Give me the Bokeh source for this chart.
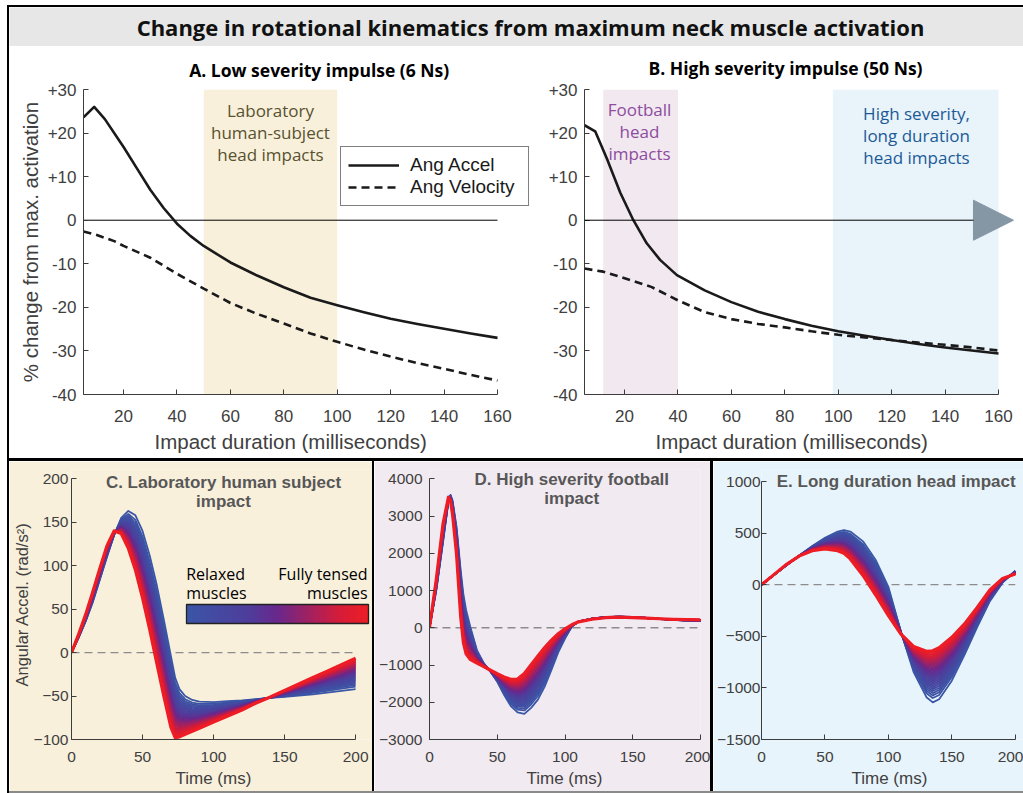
import numpy as np
from bokeh.plotting import figure
from bokeh.models import (Label, Arrow, NormalHead, Legend, LegendItem, ColorBar, Title,
                          LinearColorMapper, FixedTicker, Spacer, Range1d, BoxAnnotation,
                          ColumnDataSource)
from bokeh.layouts import row, column
from bokeh.embed import file_html
from bokeh.resources import INLINE

# ---------------- data ----------------
title_text = "Change in rotational kinematics from maximum neck muscle activation"
title_a = "A.  Low severity impulse (6 Ns)"
title_b = "B. High severity impulse (50 Ns)"

# Panel A: low severity impulse (6 Ns) - % change from max activation vs impact duration (ms)
a_accel_x = [5, 9, 13, 20, 25, 30, 35, 40, 45, 50, 60, 70, 80, 90, 100, 110, 120, 130, 140, 150, 160]
a_accel_y = [23.6, 26.0, 23.2, 16.8, 11.9, 7.0, 2.8, -0.8, -3.6, -5.9, -9.7, -12.7, -15.4, -17.8,
             -19.5, -21.1, -22.6, -23.8, -24.9, -26.0, -27.0]
a_vel_x = [5, 10, 16.5, 20, 30, 40, 50, 60, 70, 80, 90, 100, 110, 120, 130, 140, 150, 160]
a_vel_y = [-2.6, -3.4, -4.8, -5.9, -8.6, -12.3, -15.7, -19.0, -21.5, -23.7, -26.0, -27.9, -29.7,
           -31.3, -32.8, -34.1, -35.5, -36.8]

# Panel B: high severity impulse (50 Ns)
b_accel_x = [5, 9, 13.4, 18.4, 23.3, 28.3, 33.3, 39.6, 50, 60, 70, 80, 90, 100, 110, 120, 130, 140, 150, 160]
b_accel_y = [21.8, 20.4, 14.1, 6.3, 0.0, -5.3, -9.1, -12.6, -16.1, -18.8, -21.0, -22.7, -24.2,
             -25.5, -26.5, -27.5, -28.4, -29.2, -29.9, -30.6]
b_vel_x = [5, 12, 18.4, 30, 40, 50, 60, 70, 80, 90, 100, 110, 120, 130, 140, 150, 160]
b_vel_y = [-11.1, -11.8, -13.0, -15.3, -18.4, -21.1, -22.7, -23.8, -24.6, -25.5, -26.3, -26.9,
           -27.5, -28.1, -28.6, -29.2, -29.9]

dur_limits = [5, 160]
pct_limits = [-40, 30]
a_ticks_y = [-40, -30, -20, -10, 0, 10, 20, 30]
a_tick_labels_y = ["-40", "-30", "-20", "-10", "0", "+10", "+20", "+30"]
a_ticks_x = [20, 40, 60, 80, 100, 120, 140, 160]
zero_x = [5, 160]
zero_y = [0, 0]

# shaded duration ranges (ms)
lab_region = [50, 100]
football_region = [12, 40]
long_region = [98, 160]

# Panel C: laboratory human subject impact (rad/s^2)
c_time = [0, 5, 10, 15, 20, 25, 30, 35, 40, 45, 50, 55, 60, 65, 70, 73, 76, 80, 85, 90, 100,
          110, 120, 130, 140, 150, 160, 170, 180, 190, 200]
c_relaxed = [0, 17, 36, 58, 84, 110, 135, 155, 163, 158, 140, 112, 78, 38, -4, -29, -42, -50,
             -54.5, -56.5, -57, -56, -55, -53.5, -52, -51, -49.5, -48, -46, -44, -42]
c_tensed = [0, 21, 44, 70, 97, 123, 140, 137, 120, 95, 63, 27, -12, -50, -86, -98, -97, -94,
            -90.5, -87, -80, -73, -66, -58, -51, -43.5, -36, -28.5, -21.5, -14, -6.5]

# Panel D: high severity football impact
d_time = [0, 5, 10, 14, 15.5, 17, 20, 23, 25, 27, 30, 35, 40, 45, 50, 55, 60, 65, 70, 75, 80,
          85, 90, 95, 100, 105, 110, 120, 130, 140, 150, 160, 170, 180, 190, 200]
d_relaxed = [0, 1000, 2300, 3400, 3570, 3420, 2700, 1550, 900, 480, 40, -600, -950, -1180,
             -1450, -1800, -2100, -2270, -2310, -2150, -1930, -1580, -1130, -660, -290, 30, 170,
             250, 290, 300, 290, 265, 235, 210, 190, 180]
d_tensed = [0, 1300, 2800, 3510, 3400, 3050, 1950, 300, -400, -700, -850, -950, -1040, -1140,
            -1235, -1320, -1385, -1375, -1230, -990, -760, -530, -330, -160, -30, 80, 160, 230,
            270, 285, 275, 258, 242, 228, 220, 215]

# Panel E: long duration head impact
e_time = [0, 10, 20, 30, 40, 50, 60, 65, 70, 80, 90, 100, 110, 120, 130, 135, 140, 150, 160,
          170, 180, 190, 200]
e_relaxed = [0, 95, 190, 285, 375, 455, 515, 530, 515, 420, 240, -20, -460, -850, -1090, -1140,
             -1110, -930, -680, -410, -160, 20, 136]
e_tensed = [0, 100, 200, 280, 330, 346, 330, 305, 250, 90, -100, -300, -480, -600, -646, -640,
            -610, -510, -380, -220, -50, 60, 103]

time_limits = [0, 200]
time_ticks = [0, 50, 100, 150, 200]
c_ticks = [-100, -50, 0, 50, 100, 150, 200]
d_ticks = [-3000, -2000, -1000, 0, 1000, 2000, 3000, 4000]
e_ticks = [-1500, -1000, -500, 0, 500, 1000]

n_curves = 36  # muscle activation levels from relaxed to fully tensed

# ---------------- styles ----------------
AX = "#3c3c3c"
TXT = "#404040"
SANS = "Liberation Sans"
OPEN = "Open Sans"
BG_C = "#f9f0dc"
BG_D = "#f2eaf1"
BG_E = "#e8f4fb"
anch_t = [0.0, 0.35, 0.5, 0.7, 0.85, 1.0]
anch_c = [(58, 86, 166), (80, 60, 155), (105, 40, 140), (170, 32, 90), (215, 28, 55), (238, 29, 37)]


def colour_at(t):
    r = np.interp(t, anch_t, [c[0] for c in anch_c])
    g = np.interp(t, anch_t, [c[1] for c in anch_c])
    b = np.interp(t, anch_t, [c[2] for c in anch_c])
    return "#%02x%02x%02x" % (int(round(r)), int(round(g)), int(round(b)))


palette = [colour_at(i / 255) for i in range(256)]


def style_axes(p, tick_px, label_px, tick_standoff, ylabel_standoff):
    for ax in (p.xaxis[0], p.yaxis[0]):
        ax.axis_line_color = AX
        ax.axis_line_width = 1
        ax.major_tick_line_color = AX
        ax.major_tick_in = 5
        ax.major_tick_out = 0
        ax.minor_tick_line_color = None
        ax.major_label_text_font = SANS
        ax.major_label_text_font_size = tick_px
        ax.major_label_text_color = TXT
        ax.axis_label_text_font = SANS
        ax.axis_label_text_font_size = label_px
        ax.axis_label_text_font_style = "normal"
        ax.axis_label_text_color = TXT
        ax.major_label_standoff = tick_standoff
    p.yaxis[0].minor_tick_out = 0
    p.yaxis[0].minor_tick_in = 0
    p.yaxis[0].axis_label_standoff = ylabel_standoff
    p.xgrid.visible = False
    p.ygrid.visible = False
    p.outline_line_color = None


def xlabel(p, text, size, offset, standoff):
    p.add_layout(Title(text=text, align="left", offset=offset, standoff=standoff,
                       text_font=SANS, text_font_size=size, text_font_style="normal",
                       text_color=TXT), "below")


def text_strip(width, height, bg):
    s = figure(width=width, height=height, x_range=Range1d(0, width), y_range=Range1d(0, height),
               toolbar_location=None, output_backend="svg", x_axis_location=None,
               y_axis_location=None, min_border=0, background_fill_color=bg, border_fill_color=bg)
    s.grid.visible = False
    s.outline_line_color = None
    return s


# ---------------- title band ----------------
pT = text_strip(1014, 39, "#e6e7e6")
pT.add_layout(Label(x=521, y=19.5, text=title_text, text_align="center", text_baseline="middle",
                    text_font=OPEN, text_font_style="bold", text_font_size="22px", text_color="#111111"))

# ---------------- panel titles strip (A, B) ----------------
pS = text_strip(1014, 36, "white")
pS.add_layout(Label(x=312, y=12.5, text=title_a, text_align="center", text_baseline="middle",
                    text_font=OPEN, text_font_style="bold", text_font_size="17.5px", text_color="black"))
pS.add_layout(Label(x=776, y=15, text=title_b, text_align="center", text_baseline="middle",
                    text_font=OPEN, text_font_style="bold", text_font_size="17.5px", text_color="black"))

# ---------------- panel A ----------------
pA = figure(width=526, height=376, x_range=Range1d(5, 174.23), y_range=Range1d(*pct_limits),
            toolbar_location=None, output_backend="svg", min_border_left=74, min_border_right=0,
            min_border_top=7, min_border_bottom=64, background_fill_color="white")
pA.add_layout(BoxAnnotation(left=lab_region[0], right=lab_region[1], bottom=pct_limits[0],
                            top=pct_limits[1], fill_color="#f9f0dc", fill_alpha=1, line_color=None,
                            level="underlay"))
pA.line(zero_x, zero_y, line_color="black", line_width=1)
rA1 = pA.line(a_accel_x, a_accel_y, line_color="#1a1a1a", line_width=2.6, line_join="round")
rA2 = pA.line(a_vel_x, a_vel_y, line_color="#1a1a1a", line_width=2.6, line_dash="8 5")
style_axes(pA, "17px", "20.5px", 7, 3)
pA.xaxis[0].ticker = FixedTicker(ticks=a_ticks_x)
pA.yaxis[0].ticker = FixedTicker(ticks=a_ticks_y)
pA.yaxis[0].major_label_overrides = dict(zip(a_ticks_y, a_tick_labels_y))
pA.xaxis[0].bounds = tuple(dur_limits)
pA.yaxis[0].axis_label = "% change from max. activation"
pA.xaxis[0].major_label_standoff = 15
xlabel(pA, "Impact duration (milliseconds)", "20.5px", 71, 7)
pA.add_layout(Label(x=75, y=20.1, text="Laboratory\nhuman-subject\nhead impacts", text_align="center",
                    text_baseline="middle", text_font=OPEN, text_font_size="17px",
                    text_color="#57522f", text_line_height=0.97))
leg = Legend(items=[LegendItem(label="Ang Accel", renderers=[rA1]),
                    LegendItem(label="Ang Velocity", renderers=[rA2])],
             location=(257, 188))
leg.border_line_color = "black"
leg.border_line_width = 1.3
leg.background_fill_color = "white"
leg.background_fill_alpha = 1
leg.label_text_font = SANS
leg.label_text_font_size = "19px"
leg.label_text_color = "#1a1a1a"
leg.glyph_width = 51
leg.glyph_height = 20
leg.label_height = 20
leg.label_width = 111
leg.label_standoff = 11
leg.padding = 7
leg.spacing = 0
leg.margin = 0
pA.add_layout(leg)

# ---------------- panel B ----------------
pB = figure(width=488, height=376, x_range=Range1d(5, 169.36), y_range=Range1d(*pct_limits),
            toolbar_location=None, output_backend="svg", min_border_left=49, min_border_right=0,
            min_border_top=7, min_border_bottom=64, background_fill_color="white")
pB.add_layout(BoxAnnotation(left=football_region[0], right=football_region[1], bottom=pct_limits[0],
                            top=pct_limits[1], fill_color="#f1e8f0", fill_alpha=1, line_color=None,
                            level="underlay"))
pB.add_layout(BoxAnnotation(left=long_region[0], right=long_region[1], bottom=pct_limits[0],
                            top=pct_limits[1], fill_color="#e8f3fa", fill_alpha=1, line_color=None,
                            level="underlay"))
pB.line(b_accel_x, b_accel_y, line_color="#1a1a1a", line_width=2.6, line_join="round")
pB.line(b_vel_x, b_vel_y, line_color="#1a1a1a", line_width=2.6, line_dash="8 5")
pB.add_layout(Arrow(end=NormalHead(size=40, fill_color="#8596a5", line_color="#8596a5"),
                    x_start=5, y_start=0, x_end=165.6, y_end=0, line_color="black", line_width=1))
style_axes(pB, "17px", "20.5px", 7, 3)
pB.xaxis[0].ticker = FixedTicker(ticks=a_ticks_x)
pB.yaxis[0].ticker = FixedTicker(ticks=a_ticks_y)
pB.yaxis[0].major_label_overrides = dict(zip(a_ticks_y, a_tick_labels_y))
pB.xaxis[0].bounds = tuple(dur_limits)
pB.xaxis[0].major_label_standoff = 15
xlabel(pB, "Impact duration (milliseconds)", "20.5px", 71, 7)
pB.add_layout(Label(x=25.6, y=20.4, text="Football\nhead\nimpacts", text_align="center",
                    text_baseline="middle", text_font=OPEN, text_font_size="17px",
                    text_color="#8e4c9e", text_line_height=0.97))
pB.add_layout(Label(x=129.3, y=19.4, text="High severity,\nlong duration\nhead impacts",
                    text_align="center", text_baseline="middle", text_font=OPEN,
                    text_font_size="17px", text_color="#1b5a97", text_line_height=0.97))


# ---------------- bottom panels ----------------
def bottom_fig(width, xr, yr, yticks, ybounds, bg, left, right, top, tick_standoff):
    p = figure(width=width, height=330, x_range=Range1d(*xr), y_range=Range1d(*yr),
               toolbar_location=None, output_backend="svg", min_border_left=left,
               min_border_right=right, min_border_top=top, min_border_bottom=52,
               background_fill_color=bg, border_fill_color=bg)
    p.line(time_limits, [0, 0], line_color="#8c8c8c", line_dash="8 5", line_width=1.3)
    style_axes(p, "15.5px", "16.5px", tick_standoff, 0)
    p.xaxis[0].ticker = FixedTicker(ticks=time_ticks)
    p.yaxis[0].ticker = FixedTicker(ticks=yticks)
    p.xaxis[0].bounds = tuple(time_limits)
    p.yaxis[0].bounds = tuple(ybounds)
    p.xaxis[0].major_label_standoff = 12
    return p


def draw_family(p, t, relaxed, tensed):
    lo = np.array(relaxed, dtype=float)
    hi = np.array(tensed, dtype=float)
    xs, ys, cols, lws = [], [], [], []
    for k in range(n_curves):
        a = k / (n_curves - 1)
        w = a ** 0.7
        xs.append(list(t))
        ys.append(list(lo + w * (hi - lo)))
        cols.append(colour_at(a))
        lws.append(3.2 if k == n_curves - 1 else 1.8)
    src = ColumnDataSource(dict(xs=xs, ys=ys, color=cols, lw=lws))
    p.multi_line("xs", "ys", source=src, line_color="color", line_width="lw", line_join="round")


def panel_title(p, x, y, text, align="center"):
    p.add_layout(Label(x=x, y=y, text=text, text_align=align, text_baseline="middle",
                       text_font=SANS, text_font_style="bold", text_font_size="17px",
                       text_color="#575757", text_line_height=1.03))


pC = bottom_fig(363, (0, 211.9), (-100, 210.7), c_ticks, (-100, 200), BG_C, 61, 0, 8, 3)
draw_family(pC, c_time, c_relaxed, c_tensed)
pC.yaxis[0].axis_label = "Angular Accel. (rad/s²)"
xlabel(pC, "Time (ms)", "17px", 104, 4)
panel_title(pC, 107, 184.6, "C. Laboratory human subject\nimpact")
cb = ColorBar(color_mapper=LinearColorMapper(palette=palette, low=0, high=1),
              orientation="horizontal", width=182, height=19, location=(115, 116),
              ticker=FixedTicker(ticks=[]), major_label_text_font_size="0px",
              major_tick_line_color=None, bar_line_color="#222222", bar_line_width=1.3,
              padding=0, margin=0, label_standoff=0, background_fill_alpha=0,
              border_line_color=None, title_standoff=0)
pC.add_layout(cb)
pC.add_layout(Label(x=80.7, y=80, text="Relaxed\nmuscles", text_align="left", text_baseline="middle",
                    text_font=OPEN, text_font_size="16px", text_color="black", text_line_height=0.87))
pC.add_layout(Label(x=208.4, y=80, text="Fully tensed\nmuscles", text_align="right",
                    text_baseline="middle", text_font=OPEN, text_font_size="16px",
                    text_color="black", text_line_height=0.87))

pD = bottom_fig(336, (0, 200), (-3000, 4249.7), d_ticks, (-3000, 4000), BG_D, 55, 10, 8, 7)
draw_family(pD, d_time, d_relaxed, d_tensed)
xlabel(pD, "Time (ms)", "17px", 97, 4)
panel_title(pD, 105, 3726, "D. High severity football\nimpact")

pE = bottom_fig(310, (0, 206.5), (-1500, 1116.3), e_ticks, (-1500, 1000), BG_E, 45, 0, 8, 1)
draw_family(pE, e_time, e_relaxed, e_tensed)
xlabel(pE, "Time (ms)", "17px", 90, 4)
panel_title(pE, 12, 1000, "E. Long duration head impact", align="left")


# ---------------- layout with black separators ----------------
def bar(w, h, colour="black"):
    return Spacer(width=w, height=h, styles={"background-color": colour})


inner = column(pT, pS, row(pA, pB), bar(1014, 3),
               row(pC, bar(2, 330), pD, bar(3, 330), pE), bar(1014, 2, "#8a8a8a"))
framed = column(bar(1016, 2), row(bar(2, 786), inner))
page = column(Spacer(width=1023, height=5), row(Spacer(width=7, height=788), framed))

open("out.html", "w").write(file_html(page, INLINE))
